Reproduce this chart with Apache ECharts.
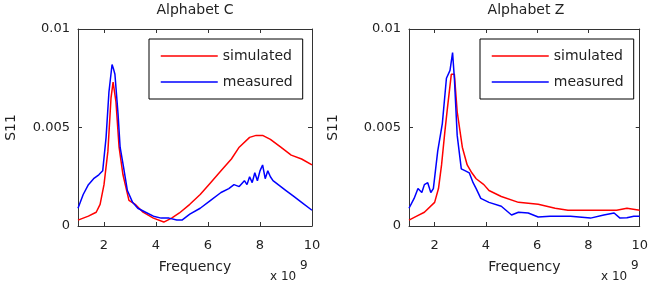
<!DOCTYPE html>
<html>
<head>
<meta charset="utf-8">
<script src="https://cdn.jsdelivr.net/npm/echarts@6/dist/echarts.min.js"></script>
<style>
  html, body { margin: 0; padding: 0; background: #fff; }
  #chart { width: 651px; height: 282px; }
</style>
</head>
<body>
<div id="chart"></div>
<script>
// frequency in units of 1e9 Hz, S11 magnitude
const freqCSim = [1, 1.4, 1.7, 1.85, 2.0, 2.15, 2.27, 2.35, 2.46, 2.58, 2.73, 2.96, 3.2, 3.5, 3.9, 4.3, 4.6, 4.9, 5.3, 5.7, 6.1, 6.5, 6.9, 7.2, 7.6, 7.85, 8.1, 8.4, 8.8, 9.2, 9.6, 10];
const s11CSim = [0.0003, 0.0005, 0.0007, 0.0011, 0.0021, 0.0038, 0.0065, 0.0073, 0.0063, 0.0040, 0.0026, 0.0013, 0.0011, 0.0007, 0.0004, 0.0002, 0.0004, 0.00066, 0.0011, 0.0016, 0.0022, 0.0028, 0.0034, 0.0040, 0.0045, 0.0046, 0.0046, 0.0044, 0.0040, 0.0036, 0.0034, 0.0031];

const freqCMeas = [1, 1.2, 1.4, 1.6, 1.8, 1.95, 2.08, 2.19, 2.31, 2.36, 2.42, 2.54, 2.62, 2.75, 2.9, 3.1, 3.3, 3.6, 3.9, 4.2, 4.5, 4.8, 5.0, 5.3, 5.7, 6.1, 6.5, 6.8, 7.0, 7.2, 7.4, 7.5, 7.6, 7.7, 7.8, 7.9, 8.0, 8.1, 8.2, 8.3, 8.4, 8.5, 8.7, 9.0, 9.3, 9.6, 10];
const s11CMeas = [0.0009, 0.0016, 0.0021, 0.0024, 0.0026, 0.0028, 0.0045, 0.0068, 0.0082, 0.0080, 0.0077, 0.0057, 0.0040, 0.0030, 0.0018, 0.0012, 0.0009, 0.0007, 0.0005, 0.0004, 0.0004, 0.0003, 0.0003, 0.0006, 0.0009, 0.0013, 0.0017, 0.0019, 0.0021, 0.0020, 0.0023, 0.0021, 0.0025, 0.0022, 0.0027, 0.0023, 0.0028, 0.0031, 0.0024, 0.0028, 0.0025, 0.0023, 0.0021, 0.0018, 0.0015, 0.0012, 0.0008];

const freqZSim = [1, 1.3, 1.6, 2.0, 2.15, 2.27, 2.4, 2.5, 2.65, 2.77, 2.88, 3.08, 3.27, 3.45, 3.62, 3.92, 4.12, 4.6, 5.27, 6.04, 6.7, 7.2, 8.1, 9.1, 9.5, 10];
const s11ZSim = [0.0003, 0.0005, 0.0007, 0.0012, 0.0019, 0.0031, 0.0048, 0.0060, 0.0077, 0.0077, 0.0058, 0.0040, 0.0031, 0.0027, 0.0024, 0.0021, 0.0018, 0.0015, 0.0012, 0.0011, 0.0009, 0.0008, 0.0008, 0.0008, 0.0009, 0.0008];

const freqZMeas = [1, 1.2, 1.35, 1.5, 1.6, 1.73, 1.85, 1.95, 2.12, 2.3, 2.46, 2.6, 2.7, 2.77, 2.88, 3.04, 3.2, 3.35, 3.5, 3.62, 3.8, 4.12, 4.6, 5.0, 5.27, 5.65, 6.04, 6.5, 7.3, 8.08, 8.6, 9.0, 9.23, 9.5, 9.77, 10];
const s11ZMeas = [0.0009, 0.0014, 0.0019, 0.0017, 0.0021, 0.0022, 0.0017, 0.0019, 0.0038, 0.0052, 0.0075, 0.0079, 0.0088, 0.0075, 0.0046, 0.0029, 0.0028, 0.0027, 0.0022, 0.0019, 0.0014, 0.0012, 0.0010, 0.00056, 0.0007, 0.00066, 0.00046, 0.0005, 0.0005, 0.0004, 0.00056, 0.00066, 0.0004, 0.00042, 0.0005, 0.0005];

const xTicks = [2, 4, 6, 8, 10];
const yTicks = [0, 0.005, 0.01];
const yTickLabels = ["0", "0.005", "0.01"];
const titles = ["Alphabet C", "Alphabet Z"];

const font = "DejaVu Sans";
const frameColor = "#333";
const textColor = "#222";

const zip = (xs, ys) => xs.map((x, i) => [x, ys[i]]);

const grids = [
  { left: 78, top: 29, width: 234, height: 197 },
  { left: 409, top: 29, width: 234, height: 197 },
];

const xAxes = [];
const yAxes = [];
grids.forEach((g, i) => {
  // bottom axis with labels
  xAxes.push({
    gridIndex: i, type: "value", min: 1, max: 10, position: "bottom",
    name: "Frequency", nameLocation: "middle", nameGap: 34,
    nameTextStyle: { fontFamily: font, fontSize: 14, color: textColor },
    axisLine: { onZero: false, lineStyle: { color: frameColor, width: 1 } },
    axisTick: { inside: true, length: 4, customValues: xTicks, lineStyle: { color: frameColor } },
    axisLabel: { customValues: xTicks, margin: 13, fontFamily: font, fontSize: 13, color: textColor },
    splitLine: { show: false },
  });
  // top frame edge
  xAxes.push({
    gridIndex: i, type: "value", min: 1, max: 10, position: "top",
    axisLine: { onZero: false, lineStyle: { color: frameColor, width: 1 } },
    axisTick: { inside: true, length: 4, customValues: xTicks, lineStyle: { color: frameColor } },
    axisLabel: { show: false },
    splitLine: { show: false },
  });
  yAxes.push({
    gridIndex: i, type: "value", min: 0, max: 0.01, position: "left",
    name: "S11", nameLocation: "middle", nameGap: i === 0 ? 60 : 69, nameRotate: 90,
    nameTextStyle: { fontFamily: font, fontSize: 14, color: textColor },
    axisLine: { show: true, onZero: false, lineStyle: { color: frameColor, width: 1 } },
    axisTick: { show: true, inside: true, length: 4, customValues: yTicks, lineStyle: { color: frameColor } },
    axisLabel: {
      customValues: yTicks, margin: 8, fontFamily: font, fontSize: 13, color: textColor,
      formatter: (v) => yTickLabels[yTicks.indexOf(v)] ?? "",
    },
    splitLine: { show: false },
  });
  yAxes.push({
    gridIndex: i, type: "value", min: 0, max: 0.01, position: "right",
    axisLine: { show: true, onZero: false, lineStyle: { color: frameColor, width: 1 } },
    axisTick: { show: true, inside: true, length: 4, customValues: yTicks, lineStyle: { color: frameColor } },
    axisLabel: { show: false },
    splitLine: { show: false },
  });
});

const lineSeries = (name, data, idx, color) => ({
  name, type: "line", data, xAxisIndex: idx * 2, yAxisIndex: idx * 2,
  symbol: "none", smooth: false, animation: false,
  lineStyle: { color, width: 1.5 },
  itemStyle: { color },
});

const legendFor = (left) => ({
  data: ["simulated", "measured"],
  orient: "vertical", left, top: 39,
  padding: [10, 10, 10, 11], itemGap: 12,
  itemWidth: 57, itemHeight: 14,
  itemStyle: { opacity: 0 },
  lineStyle: { width: 1.5 },
  backgroundColor: "#fff", borderColor: "#000", borderWidth: 1, borderRadius: 0,
  textStyle: { fontFamily: font, fontSize: 14, color: textColor },
});

const chart = echarts.init(document.getElementById("chart"), null, { renderer: "canvas" });
chart.setOption({
  animation: false,
  grid: grids,
  xAxis: xAxes,
  yAxis: yAxes,
  legend: [legendFor(149), legendFor(480)],
  series: [
    lineSeries("simulated", zip(freqCSim, s11CSim), 0, "#ff0000"),
    lineSeries("measured", zip(freqCMeas, s11CMeas), 0, "#0000ff"),
    lineSeries("simulated", zip(freqZSim, s11ZSim), 1, "#ff0000"),
    lineSeries("measured", zip(freqZMeas, s11ZMeas), 1, "#0000ff"),
  ],
  graphic: grids.flatMap((g, i) => [
    {
      type: "text", x: g.left + g.width / 2, y: 3,
      style: { text: titles[i], fontFamily: font, fontSize: 14, fill: textColor, align: "center" },
    },
    {
      type: "text", x: g.left + g.width - 42, y: 271,
      style: { text: "x 10", fontFamily: font, fontSize: 12, fill: textColor },
    },
    {
      type: "text", x: g.left + g.width - 12, y: 260,
      style: { text: "9", fontFamily: font, fontSize: 12, fill: textColor },
    },
  ]),
});
</script>
</body>
</html>
